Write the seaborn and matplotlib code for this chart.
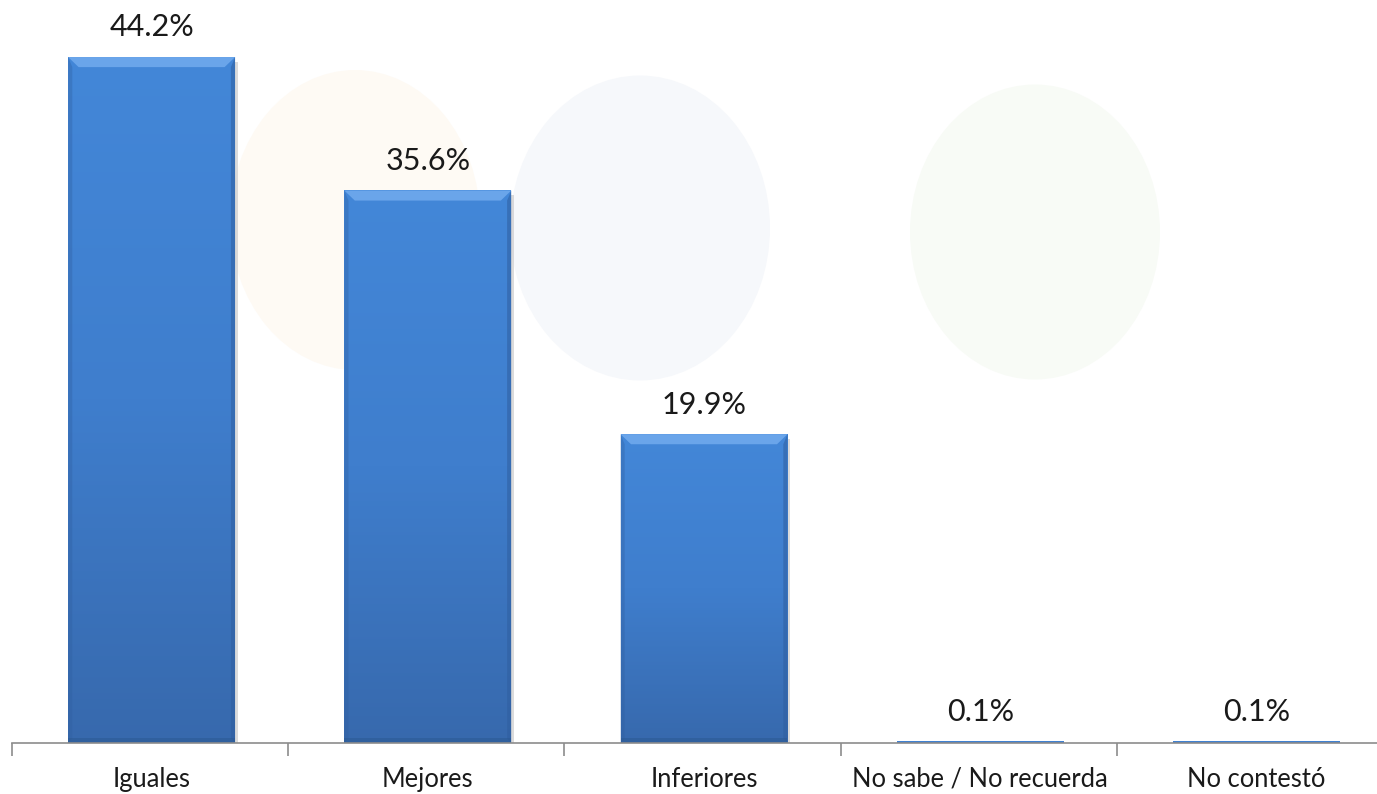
import numpy as np
import pandas as pd
import matplotlib
matplotlib.use("Agg")
import matplotlib.pyplot as plt
import seaborn as sns
from matplotlib.patches import Ellipse
from matplotlib.colors import LinearSegmentedColormap

categories = ["Iguales", "Mejores", "Inferiores", "No sabe / No recuerda", "No contestó"]
values = [44.2, 35.6, 19.9, 0.1, 0.1]
labels = ["44.2%", "35.6%", "19.9%", "0.1%", "0.1%"]

sns.set_theme(style="white")
plt.rcParams['font.family'] = ['Lato', 'DejaVu Sans']

W, H = 1377, 794
fig = plt.figure(figsize=(W / 100, H / 100), dpi=100)
fig.patch.set_facecolor("white")

# faint watermark shapes in a background axes
bg = fig.add_axes([0, 0, 1, 1], zorder=-5)
bg.set_xlim(0, W)
bg.set_ylim(H, 0)
bg.axis("off")
for cx, cy, w, h, c in [(355, 220, 250, 300, "#FEFAF4"), (640, 228, 260, 305, "#F6F8FB"),
                        (1035, 232, 250, 295, "#F8FBF6")]:
    bg.add_patch(Ellipse((cx, cy), w, h, facecolor=c, edgecolor="none"))

left_px = 12
cat_w = 276.2
ax = fig.add_axes([left_px / W, 1 - 743 / H, (W - left_px) / W, 743 / H], zorder=1)
ax.set_facecolor("none")

df = pd.DataFrame({"cat": categories, "val": values})
sns.barplot(data=df, x="cat", y="val", ax=ax, color="#3D7CCB", width=167 / cat_w,
            saturation=1, edgecolor="none", zorder=2)

XLIM = (-0.5, -0.5 + (W - left_px) / cat_w)
YLIM = (0, 743 / 15.52)
ax.set_xlim(*XLIM)
ax.set_ylim(*YLIM)

cmap = LinearSegmentedColormap.from_list("g", ["#4387D8", "#3F7ECD", "#3769AD"])
grad = np.linspace(0, 1, 256).reshape(-1, 1)
shift = 1.5 / cat_w
bars = list(ax.patches)
for p in bars:
    p.set_x(p.get_x() + shift)
    x0, y0 = p.get_x(), p.get_y()
    w, h = p.get_width(), p.get_height()
    im = ax.imshow(grad, extent=[x0, x0 + w, y0, y0 + h], aspect="auto", cmap=cmap,
                   origin="upper", zorder=3, interpolation="bilinear")
    im.set_clip_path(p)
    if h > 1:
        # soft shadow on right
        ax.add_patch(plt.Rectangle((x0 + w, y0), 0.01, h - 0.3, facecolor="#c4c4c4",
                                   edgecolor="none", zorder=1, alpha=0.6))
        # top bevel highlight (trapezoid)
        d = 0.65
        dx = 0.038
        ax.add_patch(plt.Polygon([(x0, y0 + h), (x0 + w, y0 + h), (x0 + w - dx, y0 + h - d),
                                  (x0 + dx, y0 + h - d)], closed=True, facecolor="#6AA5EA",
                                 edgecolor="none", zorder=4))
        # side darker edges
        ax.add_patch(plt.Polygon([(x0 + w, y0 + h), (x0 + w, y0), (x0 + w - dx * 0.4, y0 + 0.3),
                                  (x0 + w - dx * 0.4, y0 + h - d)], closed=True,
                                 facecolor="#2F5E9F", edgecolor="none", zorder=4, alpha=0.55))
        ax.add_patch(plt.Polygon([(x0, y0 + h), (x0, y0), (x0 + dx * 0.4, y0 + 0.3),
                                  (x0 + dx * 0.4, y0 + h - d)], closed=True,
                                 facecolor="#2F5E9F", edgecolor="none", zorder=4, alpha=0.35))
        ax.add_patch(plt.Rectangle((x0, y0), w, 0.3, facecolor="#2B5890",
                                   edgecolor="none", zorder=4, alpha=0.5))

for i, (v, lab) in enumerate(zip(values, labels)):
    ax.text(i + shift, v + 1.0, lab, ha="center", va="bottom", fontsize=22, color="#1a1a1a", zorder=5)

ax.set_xlabel("")
ax.set_ylabel("")
ax.set_yticks([])
for s in ["top", "right", "left"]:
    ax.spines[s].set_visible(False)
ax.spines["bottom"].set_color("#8c8c8c")
ax.spines["bottom"].set_linewidth(1.2)
ax.spines["bottom"].set_zorder(6)

ax.set_xticks(np.arange(len(categories)) + shift)
ax.set_xticklabels(categories, fontsize=18.4, color="#1a1a1a")
ax.tick_params(axis="x", which="major", length=0, pad=17)
ax.set_xticks(np.arange(len(categories) + 1) - 0.5, minor=True)
ax.tick_params(axis="x", which="minor", bottom=True, length=9, width=1.2,
               color="#8c8c8c", direction="out")

ax.set_xlim(*XLIM)
ax.set_ylim(*YLIM)
ax.set_autoscale_on(False)

fig.savefig("out.png", dpi=100, facecolor="white")
